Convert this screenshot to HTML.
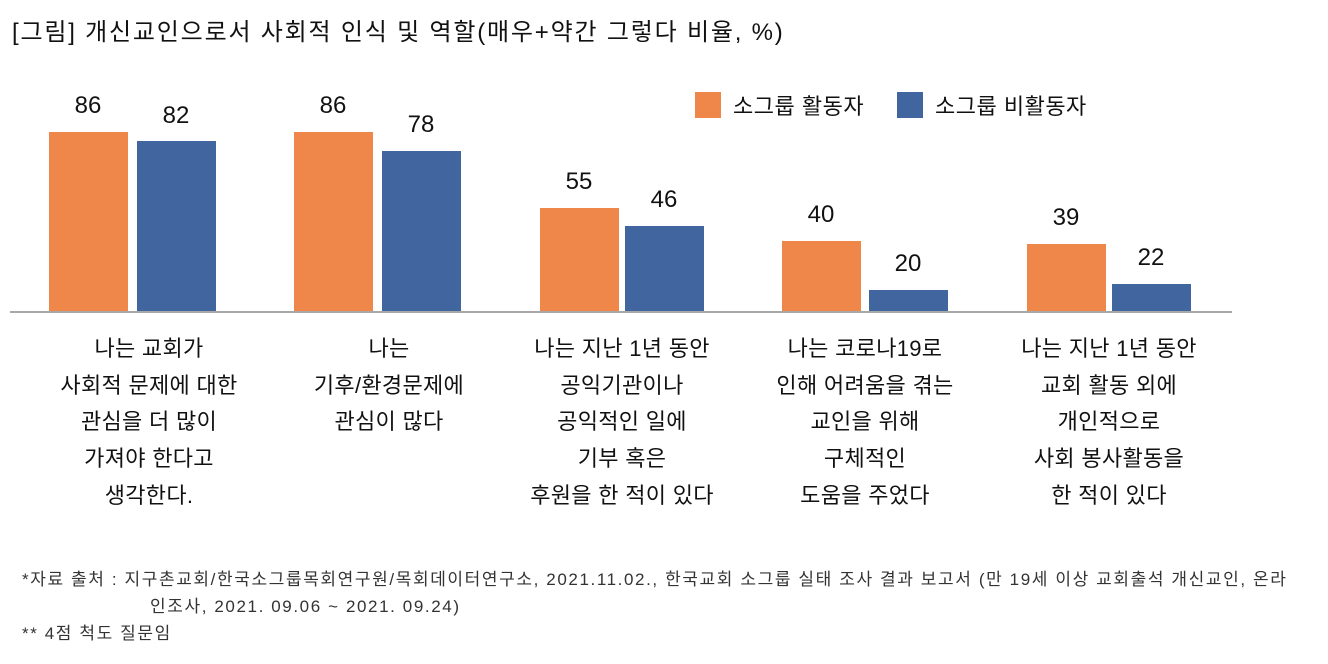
<!DOCTYPE html>
<html><head><meta charset="utf-8"><style>
body{margin:0;width:1328px;height:664px;background:#fff;position:relative;overflow:hidden;font-family:"Liberation Sans","Noto Sans CJK KR",sans-serif;color:#111}
.a{position:absolute;white-space:nowrap}
.o{position:absolute;background:#F0874A}
.b{position:absolute;background:#41659E}
.v{position:absolute;width:100px;text-align:center;font-size:24px;line-height:28px}
.c{position:absolute;width:260px;text-align:center;font-size:22px;line-height:36.7px;letter-spacing:0.3px}
.f{position:absolute;font-size:17px;color:#333;white-space:nowrap;letter-spacing:1.6px}
</style></head><body>
<div class="a" style="left:12px;top:12px;font-size:24px;letter-spacing:1.8px">[그림] 개신교인으로서 사회적 인식 및 역할(매우+약간 그렇다 비율, %)</div>

<div class="a" style="left:695px;top:92px;width:26px;height:26px;background:#F0874A"></div>
<div class="a" style="left:733px;top:89px;font-size:22px;letter-spacing:0.5px">소그룹 활동자</div>
<div class="a" style="left:897px;top:92px;width:26px;height:26px;background:#41659E"></div>
<div class="a" style="left:935px;top:89px;font-size:22px;letter-spacing:0.5px">소그룹 비활동자</div>

<div class="o" style="left:49px;top:132px;width:79px;height:179px"></div>
<div class="b" style="left:137px;top:141px;width:79px;height:170px"></div>
<div class="o" style="left:294px;top:132px;width:79px;height:179px"></div>
<div class="b" style="left:382px;top:151px;width:79px;height:160px"></div>
<div class="o" style="left:540px;top:208px;width:79px;height:103px"></div>
<div class="b" style="left:625px;top:226px;width:79px;height:85px"></div>
<div class="o" style="left:782px;top:241px;width:79px;height:70px"></div>
<div class="b" style="left:869px;top:290px;width:79px;height:21px"></div>
<div class="o" style="left:1027px;top:244px;width:79px;height:67px"></div>
<div class="b" style="left:1112px;top:284px;width:79px;height:27px"></div>
<div class="a" style="left:10px;top:311px;width:1222px;height:2px;background:#a8a8a8"></div>

<div class="v" style="left:38px;top:92px">86</div>
<div class="v" style="left:126px;top:102px">82</div>
<div class="v" style="left:283px;top:92px">86</div>
<div class="v" style="left:371px;top:111px">78</div>
<div class="v" style="left:529px;top:168px">55</div>
<div class="v" style="left:614px;top:186px">46</div>
<div class="v" style="left:771px;top:201px">40</div>
<div class="v" style="left:858px;top:250px">20</div>
<div class="v" style="left:1016px;top:204px">39</div>
<div class="v" style="left:1101px;top:244px">22</div>

<div class="c" style="left:19px;top:331px">나는 교회가<br>사회적 문제에 대한<br>관심을 더 많이<br>가져야 한다고<br>생각한다.</div>
<div class="c" style="left:259px;top:331px">나는<br>기후/환경문제에<br>관심이 많다</div>
<div class="c" style="left:492px;top:331px">나는 지난 1년 동안<br>공익기관이나<br>공익적인 일에<br>기부 혹은<br>후원을 한 적이 있다</div>
<div class="c" style="left:735px;top:331px">나는 코로나19로<br>인해 어려움을 겪는<br>교인을 위해<br>구체적인<br>도움을 주었다</div>
<div class="c" style="left:979px;top:331px">나는 지난 1년 동안<br>교회 활동 외에<br>개인적으로<br>사회 봉사활동을<br>한 적이 있다</div>

<div class="f" style="left:22px;top:565px">*자료 출처 : 지구촌교회/한국소그룹목회연구원/목회데이터연구소, 2021.11.02., 한국교회 소그룹 실태 조사 결과 보고서 (만 19세 이상 교회출석 개신교인, 온라</div>
<div class="f" style="left:150px;top:592px">인조사, 2021. 09.06 ~ 2021. 09.24)</div>
<div class="f" style="left:22px;top:619px">** 4점 척도 질문임</div>
</body></html>
